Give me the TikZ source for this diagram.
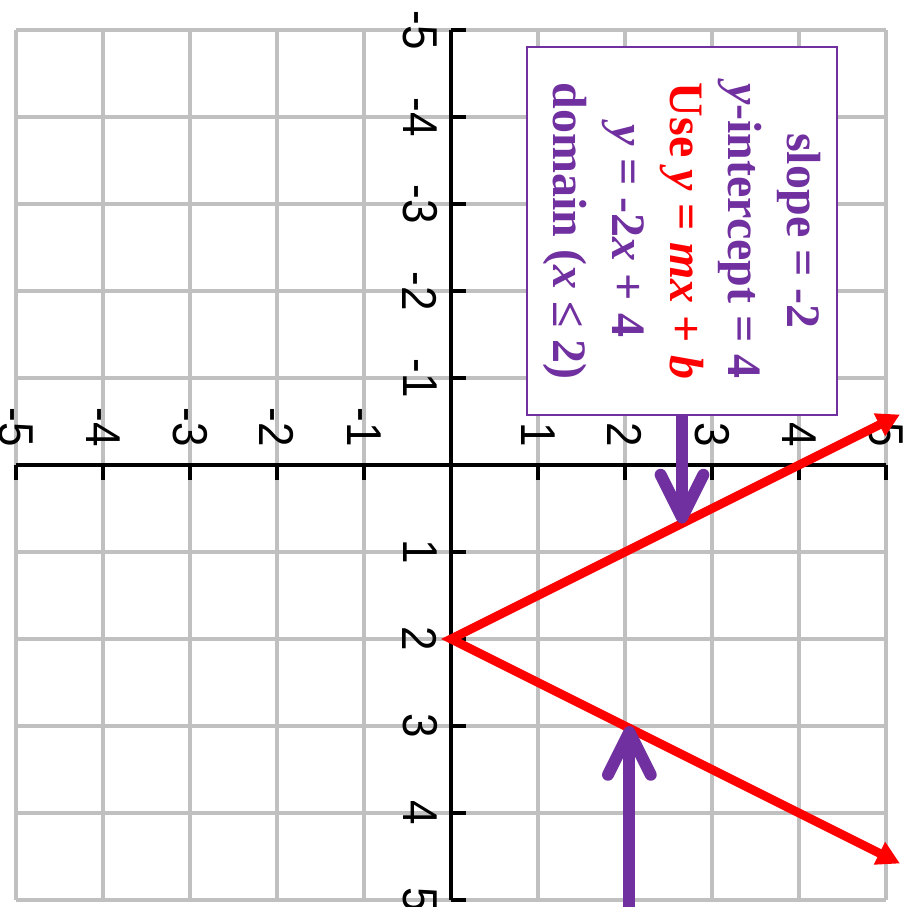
\documentclass[tikz,border=0pt]{standalone}
\usepackage{fontspec}
\setmainfont{Liberation Serif}
\newfontfamily\ticksans[FakeStretch=0.9]{Liberation Sans}
\usetikzlibrary{arrows.meta}
\definecolor{notepurple}{HTML}{7030A0}
\definecolor{gridgray}{HTML}{C0C0C0}

\begin{document}
\begin{tikzpicture}[
        gr grid/.style   ={line width=1pt, gridgray},
        gr axis/.style   ={line width=1.3pt},
        gr label/.style  ={inner sep=0pt, font=\ticksans\fontsize{16}{16}\selectfont},
        gr line/.style   ={line width=2.9pt, red, miter limit=10,
                {Triangle[length=7.5pt,width=7.8pt]}-{Triangle[length=7.5pt,width=7.8pt]}},
        gr pointer/.style={line width=3.9pt, notepurple,
                -{Straight Barb[length=14pt,width=14pt,round]}},
        gr note/.style   ={draw=notepurple, line width=0.65pt, fill=white,
                minimum width=4.23cm, minimum height=3.56cm, align=center,
                text=notepurple, font=\bfseries\fontsize{15.7}{19.1}\selectfont}
    ]
    \useasboundingbox (-5.184,-5.080) rectangle (5.310,5.345);
    %% --- the plane is drawn upright, then turned a quarter turn -----------
    \begin{scope}[rotate=-90, transform shape]
        \draw[gr grid] (-5,-5) grid (5,5);
        \draw[gr axis] (-5,0) -- (5,0);
        \draw[gr axis] (0,-5) -- (0,5);
        \foreach \k in {-5,...,-1,1,2,...,5} {
                \draw[gr axis] (\k,0) -- ++(0,0.17);
                \draw[gr axis] (0,\k) -- ++(0.17,0);
                \node[gr label] (xl\k) at (\k,-0.356) {\k};
                \node[gr label, anchor=east] (yl\k) at (-0.2,\k) {\k};
            }
        %% --- the two rays and the note ------------------------------------
        \coordinate (vtx)  at (2,0);
        \coordinate (endA) at (-0.58,5.16);
        \coordinate (endB) at (4.58,5.16);
        \draw[gr line] (endA) -- (vtx) -- (endB);
        \node[gr note] (note) at (-2.69,2.655) {slope = -2\\
            \textit{y}-intercept = 4\\
            {\color{red}Use \textit{y} = \textit{mx} + \textit{b}}\\
            \textit{y} = -2\textit{x} + 4\\
            domain (\textit{x} ≤ 2)};
        \coordinate (hitA)  at (0.6725,2.655);
        \coordinate (tailB) at (5.3,2.05);
        \coordinate (hitB)  at (3.0,2.05);
        \draw[gr pointer] (note.east) -- (hitA);
        \draw[gr pointer] (tailB) -- (hitB);
    \end{scope}
\end{tikzpicture}
\end{document}
